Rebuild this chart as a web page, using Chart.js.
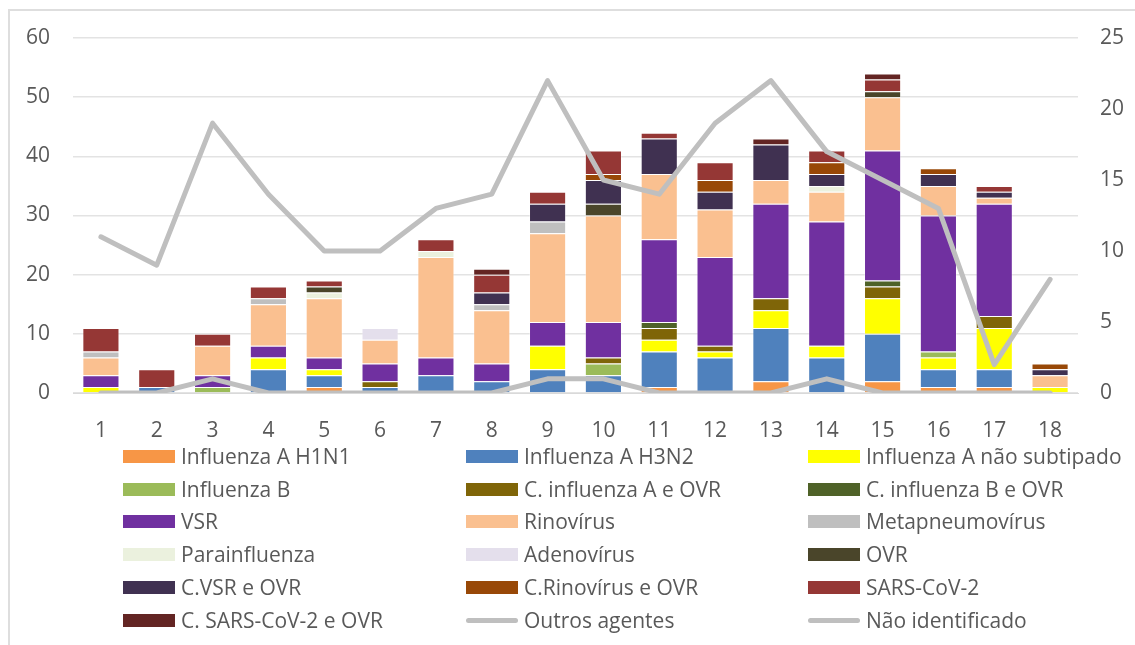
<!DOCTYPE html>
<html>
<head>
<meta charset="utf-8">
<script src="https://cdn.jsdelivr.net/npm/chart.js@4"></script>
<style>
  body { margin: 0; background: #fff; }
  #wrap { position: relative; width: 1135px; height: 645px; overflow: hidden; font-family: "Open Sans", sans-serif; }
  #frame { position: absolute; left: 8px; top: 9px; width: 1200px; height: 700px; border: 2px solid #dedede; }
  canvas { position: absolute; left: 0; top: 0; }
  .item { position: absolute; height: 30px; display: flex; align-items: center; font-size: 21px; color: #595959; white-space: nowrap; }
  .sw { width: 52px; height: 13px; margin-right: 6px; flex: none; }
  .ln { width: 52px; height: 5px; border-radius: 3px; margin-right: 6px; flex: none; }
</style>
</head>
<body>
<div id="wrap">
  <div id="frame"></div>
  <canvas id="chart" width="1135" height="645"></canvas>
  <div id="legend"></div>
</div>
<script>
// weeks
const weeks = ["1","2","3","4","5","6","7","8","9","10","11","12","13","14","15","16","17","18"];

const h1n1        = [0,0,0,0,1,0,0,0,0,0,1,0,2,0,2,1,1,0];
const h3n2        = [0,1,0,4,2,1,3,2,4,3,6,6,9,6,8,3,3,0];
const fluANaoSub  = [1,0,0,2,1,0,0,0,4,0,2,1,3,2,6,2,7,1];
const fluB        = [0,0,1,0,0,0,0,0,0,2,0,0,0,0,0,1,0,0];
const coFluAOvr   = [0,0,0,0,0,1,0,0,0,1,2,1,2,0,2,0,2,0];
const coFluBOvr   = [0,0,0,0,0,0,0,0,0,0,1,0,0,0,1,0,0,0];
const vsr         = [2,0,2,2,2,3,3,3,4,6,14,15,16,21,22,23,19,0];
const rino        = [3,0,5,7,10,4,17,9,15,18,11,8,4,5,9,5,1,2];
const metapneumo  = [1,0,0,1,0,0,0,1,2,0,0,0,0,0,0,0,0,0];
const parainf     = [0,0,0,0,1,0,1,0,0,0,0,0,0,1,0,0,0,0];
const adeno       = [0,0,0,0,0,2,0,0,0,0,0,0,0,0,0,0,0,0];
const ovr         = [0,0,0,0,1,0,0,0,0,2,0,0,0,0,1,0,0,0];
const coVsrOvr    = [0,0,0,0,0,0,0,2,3,4,6,3,6,2,0,2,1,1];
const coRinoOvr   = [0,0,0,0,0,0,0,0,0,1,0,2,0,2,0,1,0,1];
const sarsCov2    = [4,3,2,2,1,0,2,3,2,4,1,3,0,2,2,0,1,0];
const coSarsOvr   = [0,0,0,0,0,0,0,1,0,0,0,0,1,0,1,0,0,0];

// right axis
const outrosAgentes   = [0,0,1,0,0,0,0,0,1,1,0,0,0,1,0,0,0,0];
const naoIdentificado = [11,9,19,14,10,10,13,14,22,15,14,19,22,17,15,13,2,8];

const leftTicks = [0, 10, 20, 30, 40, 50, 60];
const rightTicks = [0, 5, 10, 15, 20, 25];

function bar(label, data, color) {
    return {
        type: "bar", label: label, data: data, backgroundColor: color,
        borderColor: "rgba(255,255,255,0.35)", borderWidth: 1,
        yAxisID: "y", order: 1, barPercentage: 0.665, categoryPercentage: 1
    };
}
function line(label, data) {
    return {
        type: "line", label: label, data: data, borderColor: "#BFBFBF", backgroundColor: "#BFBFBF",
        borderWidth: 5, pointRadius: 0, fill: false, tension: 0,
        borderCapStyle: "round", borderJoinStyle: "round", yAxisID: "y1", order: 0
    };
}

const datasets = [
    bar("Influenza A H1N1", h1n1, "#F79646"),
    bar("Influenza A H3N2", h3n2, "#4F81BD"),
    bar("Influenza A não subtipado", fluANaoSub, "#FFFF00"),
    bar("Influenza B", fluB, "#9BBB59"),
    bar("C. influenza A e OVR", coFluAOvr, "#7F6508"),
    bar("C. influenza B e OVR", coFluBOvr, "#4F6228"),
    bar("VSR", vsr, "#7030A0"),
    bar("Rinovírus", rino, "#FAC090"),
    bar("Metapneumovírus", metapneumo, "#BFBFBF"),
    bar("Parainfluenza", parainf, "#EBF1DE"),
    bar("Adenovírus", adeno, "#E4DFEC"),
    bar("OVR", ovr, "#4A452A"),
    bar("C.VSR e OVR", coVsrOvr, "#403151"),
    bar("C.Rinovírus e OVR", coRinoOvr, "#984807"),
    bar("SARS-CoV-2", sarsCov2, "#953735"),
    bar("C. SARS-CoV-2 e OVR", coSarsOvr, "#632523"),
    line("Outros agentes", outrosAgentes),
    line("Não identificado", naoIdentificado)
];

Chart.defaults.font.family = "Open Sans";
Chart.defaults.font.size = 21;
Chart.defaults.color = "#595959";

const chart = new Chart(document.getElementById("chart"), {
    data: { labels: weeks, datasets: datasets },
    options: {
        responsive: false,
        animation: false,
        layout: { padding: { top: 38, bottom: 202, left: 0, right: 0 } },
        plugins: { legend: { display: false }, tooltip: { enabled: false } },
        scales: {
            x: {
                stacked: true, offset: true,
                grid: { display: false },
                border: { display: true, color: "#D9D9D9", width: 1 },
                ticks: { padding: 17, maxRotation: 0 },
                afterFit: s => { s.height = 50; }
            },
            y: {
                stacked: true, position: "left", min: 0, max: 60,
                grid: { color: "#E3E3E3", lineWidth: 1.5, drawTicks: false },
                border: { display: false },
                ticks: { stepSize: 10, padding: 23 },
                afterBuildTicks: s => { s.ticks = leftTicks.map(v => ({ value: v })); },
                afterFit: s => { s.width = 73; }
            },
            y1: {
                position: "right", min: 0, max: 25,
                grid: { display: false, drawTicks: false },
                border: { display: false },
                ticks: { stepSize: 5, padding: 22 },
                afterBuildTicks: s => { s.ticks = rightTicks.map(v => ({ value: v })); },
                afterFit: s => { s.width = 57; }
            }
        }
    }
});

// legend in three columns
const colX = [123, 466, 808];
const rowY = [456, 489, 521, 554, 587, 620];
const legend = document.getElementById("legend");
chart.data.datasets.forEach((ds, i) => {
    const item = document.createElement("div");
    item.className = "item";
    item.style.left = colX[i % 3] + "px";
    item.style.top = (rowY[Math.floor(i / 3)] - 15) + "px";
    const mark = document.createElement("span");
    mark.className = ds.type === "line" ? "ln" : "sw";
    mark.style.background = ds.type === "line" ? ds.borderColor : ds.backgroundColor;
    const txt = document.createElement("span");
    txt.textContent = ds.label;
    item.appendChild(mark);
    item.appendChild(txt);
    legend.appendChild(item);
});
</script>
</body>
</html>
